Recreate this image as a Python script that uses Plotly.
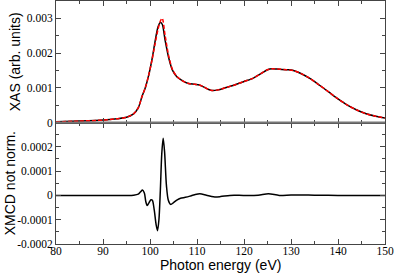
import plotly.graph_objects as go

# ---------------- data ----------------
energy_xas = [80, 85, 90, 93, 95, 96.5, 97.5, 98.3, 99.0, 99.7, 100.4, 101.1, 101.7, 102.2,
              102.6, 103.2, 104.0, 104.8, 105.7, 106.7, 108, 109.5, 110.5, 111.5, 112.5,
              113.2, 114.5, 116, 118, 120, 122, 123.5, 125, 126, 127, 129, 130.5, 132, 134,
              136, 138, 140, 142, 144, 146, 148, 150]
xas_black = [0.00002, 0.00004, 0.00007, 0.00011, 0.00015, 0.00025, 0.00042, 0.00075, 0.00100,
             0.00135, 0.00180, 0.00235, 0.00275, 0.00288, 0.00283, 0.00238, 0.00185, 0.00150,
             0.00132, 0.00122, 0.00113, 0.00110, 0.00108, 0.00102, 0.00095, 0.00092, 0.00094,
             0.00100, 0.00108, 0.00118, 0.00128, 0.00140, 0.00152, 0.00155, 0.00154, 0.00152,
             0.00150, 0.00142, 0.00127, 0.00108, 0.00088, 0.00068, 0.00050, 0.00036, 0.00025,
             0.00018, 0.00013]
xas_red = [0.00002, 0.00004, 0.00007, 0.00011, 0.00015, 0.00025, 0.00042, 0.00075, 0.00100,
           0.00135, 0.00178, 0.00228, 0.00268, 0.00292, 0.00300, 0.00252, 0.00190, 0.00152,
           0.00133, 0.00122, 0.00113, 0.00110, 0.00108, 0.00102, 0.00095, 0.00092, 0.00094,
           0.00100, 0.00108, 0.00118, 0.00128, 0.00140, 0.00152, 0.00155, 0.00154, 0.00152,
           0.00150, 0.00142, 0.00127, 0.00108, 0.00088, 0.00068, 0.00050, 0.00036, 0.00025,
           0.00018, 0.00013]

energy_xmcd = [80, 90, 95, 96.5, 97.5, 98.0, 98.4, 98.8, 99.1, 99.4, 99.8, 100.2, 100.5, 100.9,
               101.3, 101.6, 101.9, 102.2, 102.5, 102.8, 103.1, 103.5, 103.9, 104.4, 105.0,
               105.8, 106.5, 107.5, 108.5, 109.5, 110.6, 112.0, 113.5, 115.0, 117, 120, 123,
               125.2, 127.5, 130, 132, 135, 140, 150]
xmcd = [0, 0, 0, 0.000001, 0.000005, 0.000015, 0.000022, 0.000010, -0.000025, -0.000042,
        -0.000030, -0.000018, -0.000020, -0.000060, -0.000120, -0.000145, -0.000100, 0.000020,
        0.000170, 0.000235, 0.000180, 0.000040, -0.000020, -0.000037, -0.000030, -0.000018,
        -0.000012, -0.000008, -0.000003, 0.000003, 0.000007, 0.000001, -0.000006, -0.000005,
        0, 0, 0.000001, 0.000007, 0, 0.000002, 0.000002, 0.000001, 0, 0]

x_ticks = [80, 90, 100, 110, 120, 130, 140, 150]
xas_ticks = [0, 0.001, 0.002, 0.003]
xas_ticktext = ["0", "0.001", "0.002", "0.003"]
xmcd_ticks = [-0.0002, -0.0001, 0, 0.0001, 0.0002]
xmcd_ticktext = ["-0.0002", "-0.0001", "0", "0.0001", "0.0002"]

# ---------------- figure ----------------
W, H = 395, 275
ML, MR, MT, MB = 56, 10, 1, 31
plot_w = W - ML - MR
plot_h = H - MT - MB

tickfont = dict(family="Liberation Serif", size=11.5, color="#000")
titlefont = dict(family="Liberation Sans", size=14, color="#000")
axcol = "#444"

fig = go.Figure()
fig.add_trace(go.Scatter(x=energy_xas, y=xas_black, mode="lines", xaxis="x2", yaxis="y2",
                         line=dict(color="black", width=1.5, shape="spline", smoothing=0.8),
                         showlegend=False))
fig.add_trace(go.Scatter(x=energy_xas, y=xas_red, mode="lines", xaxis="x2", yaxis="y2",
                         line=dict(color="#ff0000", width=1.5, dash="4px,2px", shape="spline",
                                   smoothing=0.8),
                         showlegend=False))
fig.add_trace(go.Scatter(x=energy_xmcd, y=xmcd, mode="lines", xaxis="x", yaxis="y",
                         line=dict(color="black", width=1.5, shape="spline", smoothing=0.8),
                         showlegend=False))

common_x = dict(range=[80, 150], tickvals=x_ticks, ticks="inside", ticklen=5, tickwidth=1,
                tickcolor=axcol, showline=True, linecolor=axcol, linewidth=1, mirror="ticks",
                showgrid=False, zeroline=False, automargin=False,
                minor=dict(dtick=5, tick0=80, ticks="inside", ticklen=3, tickcolor=axcol))

fig.update_layout(
    width=W, height=H,
    margin=dict(l=ML, r=MR, t=MT, b=MB, autoexpand=False),
    paper_bgcolor="white", plot_bgcolor="white",
    xaxis=dict(common_x, domain=[0, 1], anchor="y", tickfont=tickfont, ticklabelstandoff=-4),
    yaxis=dict(domain=[0, 0.5], range=[-0.0002, 0.0003], tickvals=xmcd_ticks,
               ticktext=xmcd_ticktext, ticks="inside", ticklen=5, tickcolor=axcol,
               showline=True, linecolor=axcol, linewidth=1, mirror="ticks", showgrid=False,
               zeroline=False, tickfont=tickfont, anchor="x", automargin=False,
               minor=dict(dtick=0.00005, tick0=0, ticks="inside", ticklen=3, tickcolor=axcol)),
    xaxis2=dict(common_x, domain=[0, 1], anchor="y2", matches="x", showticklabels=False),
    yaxis2=dict(domain=[0.5, 1], range=[0, 0.0035], tickvals=xas_ticks, ticktext=xas_ticktext,
                ticks="inside", ticklen=5, tickcolor=axcol, showline=True, linecolor=axcol,
                linewidth=1, mirror="ticks", showgrid=False, zeroline=False,
                tickfont=tickfont, anchor="x2", automargin=False,
                minor=dict(dtick=0.0005, tick0=0, ticks="inside", ticklen=3, tickcolor=axcol)),
    annotations=[
        dict(text="XAS (arb. units)", x=(14.5 - ML) / plot_w, xref="paper", y=0.75, yref="paper",
             textangle=-90, showarrow=False, font=titlefont, xanchor="center", yanchor="middle"),
        dict(text="XMCD not norm.", x=(10 - ML) / plot_w, xref="paper", y=0.25, yref="paper",
             textangle=-90, showarrow=False, font=titlefont, xanchor="center", yanchor="middle"),
        dict(text="Photon energy (eV)", x=0.5, xref="paper", y=-(265 - (H - MB)) / plot_h,
             yref="paper", showarrow=False, font=titlefont, xanchor="center", yanchor="middle"),
    ],
)

fig.add_shape(type="line", xref="paper", yref="paper", x0=0, x1=1, y0=0.5, y1=0.5,
              line=dict(color="#777", width=2), layer="above")

fig.write_html("out.html", config={"displayModeBar": False},
               post_script="document.body.style.margin='0';document.body.style.padding='0';")
